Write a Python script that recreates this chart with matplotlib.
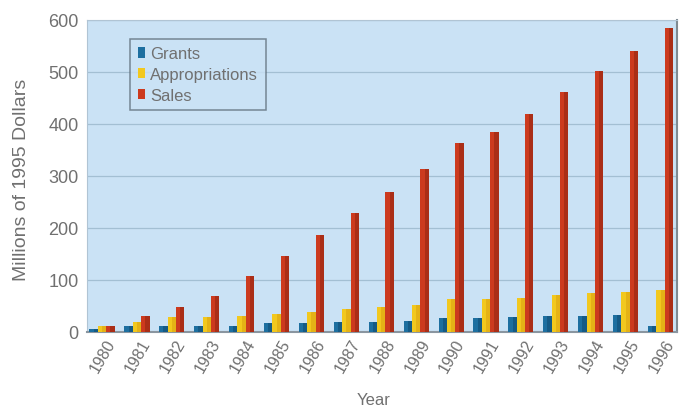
import numpy as np
import matplotlib
matplotlib.use("Agg")
import matplotlib.pyplot as plt
from matplotlib.patches import Patch

plt.rcParams['font.family'] = ['Liberation Sans Narrow', 'Liberation Sans', 'DejaVu Sans']

# Annual funding, millions of 1995 dollars
years = [str(y) for y in range(1980, 1997)]
grants = [6, 11, 11, 11, 12, 17, 17, 19, 19, 21, 27, 27, 28, 30, 30, 33, 11]
appropriations = [12, 19, 28, 28, 31, 35, 38, 44, 48, 52, 63, 63, 66, 71, 75, 77, 81]
sales = [12, 31, 48, 69, 108, 146, 187, 229, 269, 313, 363, 385, 419, 461, 502, 540, 585]

series = [
    ("Grants", grants, "#1d6fa0", "#0f4a70"),
    ("Appropriations", appropriations, "#f2c81e", "#d9a010"),
    ("Sales", sales, "#cc3a1e", "#8e2512"),
]

text_gray = "#707070"
bg = "#cae2f5"

fig = plt.figure(figsize=(6.8, 4.1), dpi=100)
ax = fig.add_axes([0.128, 0.188, 0.868, 0.761])
ax.set_facecolor(bg)

x = np.arange(len(years))
w = 0.24
for i, (name, vals, col, dark) in enumerate(series):
    pos = x + (i - 1) * w
    ax.bar(pos, vals, width=w, color=col, zorder=3, linewidth=0)
    # darker right-hand side gives the bars a shaded look
    ax.bar(pos + w * 0.25, vals, width=w * 0.5, color=dark, zorder=3,
           linewidth=0, alpha=0.55)

ax.set_xlim(-0.43, 16.48)
ax.set_ylim(0, 600)
ax.set_yticks(range(0, 601, 100))
ax.yaxis.grid(True, color="#a3bfd3", linewidth=0.9, zorder=1)
ax.tick_params(axis="y", length=0, colors=text_gray, labelsize=13, pad=6)
ax.tick_params(axis="x", length=0, colors=text_gray, labelsize=11.5, pad=3)
ax.set_xticks(x + 0.1)
ax.set_xticklabels(years, rotation=60, ha="right", rotation_mode="anchor")

for side in ["top", "left"]:
    ax.spines[side].set_color("#b0c4d4")
ax.spines["bottom"].set_color("#8a96a0")
ax.spines["bottom"].set_linewidth(1.5)
ax.spines["right"].set_color("#7f8a92")
ax.spines["right"].set_linewidth(1.5)

ax.set_ylabel("Millions of 1995 Dollars", color=text_gray, fontsize=14, labelpad=4)
ax.yaxis.set_label_coords(-0.097, 0.49)
fig.text(0.549, 0.022, "Year", color=text_gray, fontsize=12, ha="center", va="center")

handles = [Patch(facecolor=c, edgecolor="none") for _, _, c, _ in series]
leg = ax.legend(handles, [s[0] for s in series], loc="upper left",
                bbox_to_anchor=(0.073, 0.94), fontsize=12, frameon=True,
                fancybox=False, shadow=False, handlelength=0.45, handleheight=0.6,
                handletextpad=0.3, labelspacing=0.35, borderpad=0.45,
                borderaxespad=0, labelcolor=text_gray)
leg.get_frame().set_facecolor(bg)
leg.get_frame().set_edgecolor("#5f6f7c")
leg.get_frame().set_linewidth(1.1)

fig.savefig("out.png", dpi=100, facecolor="white")
